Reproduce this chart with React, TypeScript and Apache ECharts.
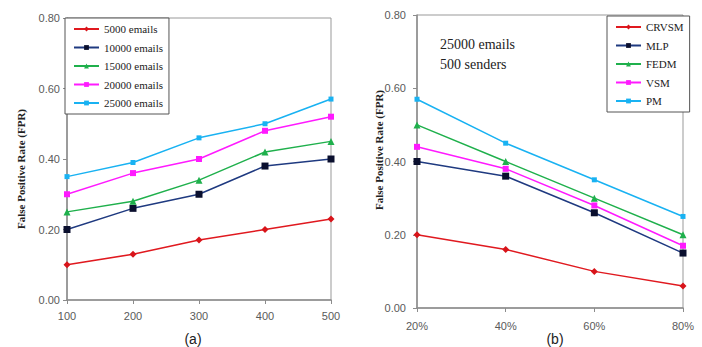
import React, { useEffect, useRef } from "react";
import * as echarts from "echarts";

const xLeft = ["100", "200", "300", "400", "500"];
const leftNames = ["5000 emails", "10000 emails", "15000 emails", "20000 emails", "25000 emails"];
const left5000 = [0.10, 0.13, 0.17, 0.20, 0.23];
const left10000 = [0.20, 0.26, 0.30, 0.38, 0.40];
const left15000 = [0.25, 0.28, 0.34, 0.42, 0.45];
const left20000 = [0.30, 0.36, 0.40, 0.48, 0.52];
const left25000 = [0.35, 0.39, 0.46, 0.50, 0.57];

const xRight = ["20%", "40%", "60%", "80%"];
const rightNames = ["CRVSM", "MLP", "FEDM", "VSM", "PM"];
const rCRVSM = [0.20, 0.16, 0.10, 0.06];
const rMLP = [0.40, 0.36, 0.26, 0.15];
const rFEDM = [0.50, 0.40, 0.30, 0.20];
const rVSM = [0.44, 0.38, 0.28, 0.17];
const rPM = [0.57, 0.45, 0.35, 0.25];

const colors = ["#e0191f", "#1f3a80", "#1fb04c", "#ff1aff", "#19b2f2"];
const symbols = ["diamond", "rect", "triangle", "rect", "rect"];
const symbolSizes = [7, 7, 7, 6, 5];
const symbolColors = ["#d8141a", "#0a0f2e", "#1fb04c", "#ff1aff", "#19b2f2"];

const axisGray = "#8c8c8c";
const labelFont = "'Liberation Sans', Arial, sans-serif";
const serif = "'Liberation Serif', 'Times New Roman', serif";

function mkSeries(name: string, data: number[], i: number, idx: number) {
  return {
    type: "line",
    name,
    data,
    xAxisIndex: idx,
    yAxisIndex: idx,
    symbol: symbols[i],
    symbolSize: symbolSizes[i],
    lineStyle: { color: colors[i], width: 1.5 },
    itemStyle: { color: symbolColors[i] },
    color: colors[i],
  };
}

export default function App() {
  const ref = useRef<HTMLDivElement>(null);
  useEffect(() => {
    document.body.style.margin = "0";
    const chart = echarts.init(ref.current!, null, { renderer: "svg" });
    const xAxisCommon = {
      type: "category",
      boundaryGap: false,
      axisLine: { lineStyle: { color: axisGray, width: 1.5 } },
      axisTick: { show: true, alignWithLabel: true, length: 4, lineStyle: { color: axisGray } },
      axisLabel: { color: "#5a5a5a", fontFamily: labelFont, fontSize: 11 },
      splitLine: { show: false },
    };
    const yAxisCommon = {
      type: "value",
      min: 0,
      max: 0.8,
      interval: 0.2,
      axisLine: { show: true, lineStyle: { color: axisGray, width: 1.5 } },
      axisTick: { show: true, length: 4, lineStyle: { color: axisGray } },
      axisLabel: {
        color: "#5a5a5a",
        fontFamily: labelFont,
        fontSize: 11,
        formatter: (v: number) => v.toFixed(2),
      },
      splitLine: { show: false },
    };
    const leftData = [left5000, left10000, left15000, left20000, left25000];
    const rightData = [rCRVSM, rMLP, rFEDM, rVSM, rPM];
    const legendCommon = {
      orient: "vertical",
      backgroundColor: "#fff",
      borderColor: "#555",
      borderWidth: 1,
      borderRadius: 0,
      itemWidth: 25,
      itemHeight: 6,
      itemGap: 4.5,
      textStyle: { fontFamily: serif, fontSize: 11, color: "#222", lineHeight: 14 },
    };
    chart.setOption({
      animation: false,
      backgroundColor: "#fff",
      grid: [
        { left: 67, right: 371, top: 18, bottom: 47, show: true, borderColor: "#999", borderWidth: 1 },
        { left: 417, right: 19, top: 15, bottom: 39, show: true, borderColor: "#999", borderWidth: 1 },
      ],
      xAxis: [
        { ...xAxisCommon, gridIndex: 0, data: xLeft, axisLabel: { ...xAxisCommon.axisLabel, margin: 10 } },
        { ...xAxisCommon, gridIndex: 1, data: xRight, axisLabel: { ...xAxisCommon.axisLabel, margin: 12 } },
      ],
      yAxis: [
        { ...yAxisCommon, gridIndex: 0, axisLabel: { ...yAxisCommon.axisLabel, margin: 7 } },
        { ...yAxisCommon, gridIndex: 1, axisLabel: { ...yAxisCommon.axisLabel, margin: 11 } },
      ],
      legend: [
        { ...legendCommon, data: leftNames, left: 65, top: 18, padding: [4, 6, 4, 8] },
        { ...legendCommon, data: rightNames, left: 607, top: 16, padding: [4, 6, 4, 8] },
      ],
      series: [
        ...leftNames.map((n, i) => mkSeries(n, leftData[i], i, 0)),
        ...rightNames.map((n, i) => mkSeries(n, rightData[i], i, 1)),
      ],
      graphic: [
        {
          type: "text",
          x: 21,
          y: 169,
          rotation: Math.PI / 2,
          style: {
            text: "False Positive Rate (FPR)",
            fontFamily: serif,
            fontWeight: "bold",
            fontSize: 11,
            fill: "#222",
            align: "center",
            verticalAlign: "middle",
          },
        },
        {
          type: "text",
          x: 379,
          y: 150,
          rotation: Math.PI / 2,
          style: {
            text: "False Positive Rate (FPR)",
            fontFamily: serif,
            fontWeight: "bold",
            fontSize: 11,
            fill: "#222",
            align: "center",
            verticalAlign: "middle",
          },
        },
        {
          type: "text",
          x: 193,
          y: 339,
          style: { text: "(a)", fontFamily: labelFont, fontSize: 14, fill: "#222", align: "center", verticalAlign: "middle" },
        },
        {
          type: "text",
          x: 555,
          y: 339,
          style: { text: "(b)", fontFamily: labelFont, fontSize: 14, fill: "#222", align: "center", verticalAlign: "middle" },
        },
        {
          type: "text",
          x: 440,
          y: 44,
          style: { text: "25000 emails", fontFamily: serif, fontSize: 14, fill: "#222", verticalAlign: "middle" },
        },
        {
          type: "text",
          x: 440,
          y: 64,
          style: { text: "500 senders", fontFamily: serif, fontSize: 14, fill: "#222", verticalAlign: "middle" },
        },
      ],
    });
    return () => chart.dispose();
  }, []);
  return <div ref={ref} style={{ width: 702, height: 347, position: "absolute", left: 0, top: 0 }} />;
}
